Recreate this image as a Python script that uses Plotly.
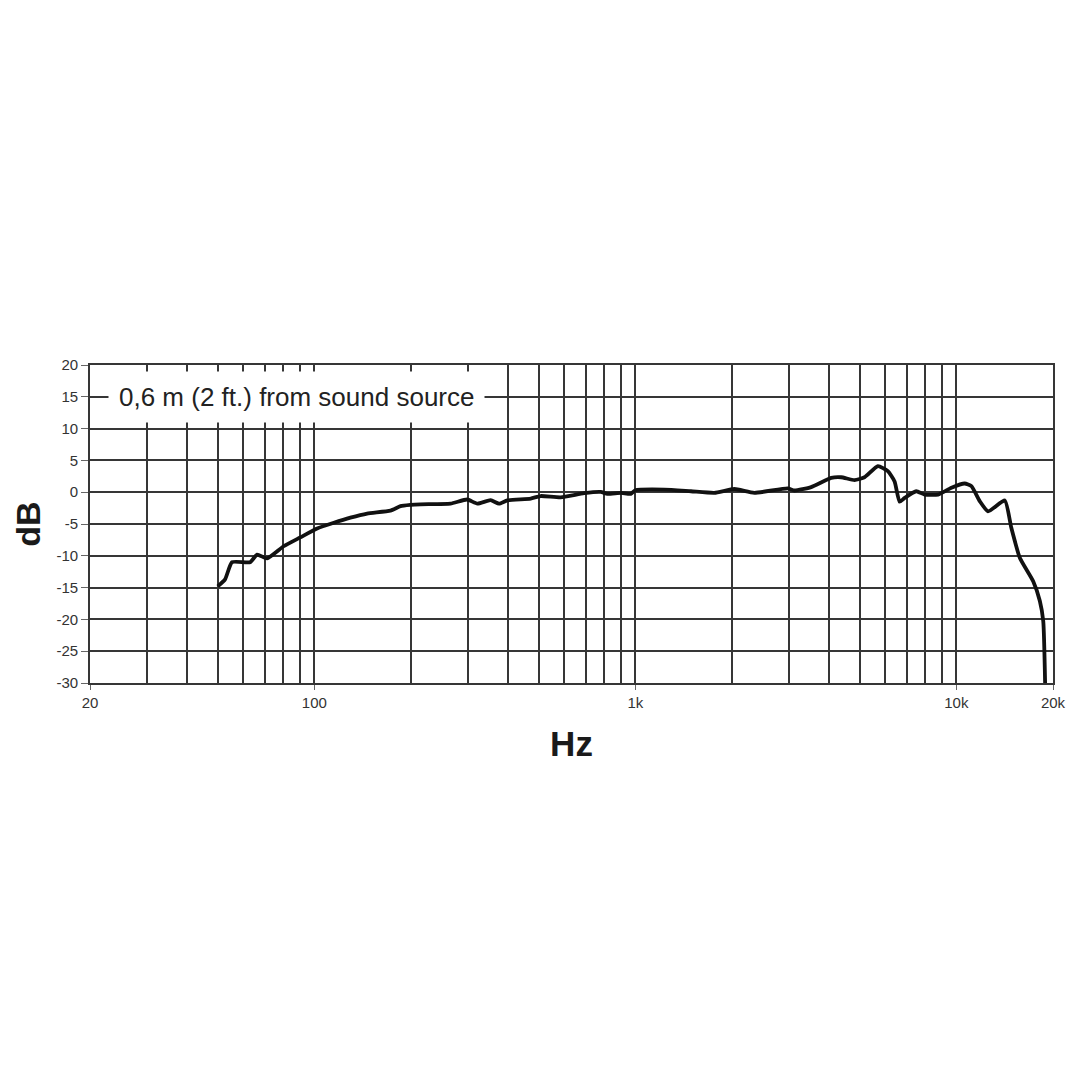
import plotly.graph_objects as go

# Frequency response data (Hz, dB)
freq_hz = [50, 52.7, 55.4, 63.1, 66.3, 71.2, 80.2, 90.4, 102, 115, 129.5, 146, 172.6, 185.5, 199, 214,
           265.6, 299, 322, 354, 376, 399, 472, 507, 585, 692, 780, 818, 902, 968, 1000,
           1230, 1490, 1762, 2033, 2348, 2983, 3130, 3528, 4074, 4375, 4816, 5175,
           5696, 6118, 6420, 6655, 6900, 7500, 7962, 8770, 9653, 10613, 11140, 11823, 12554,
           14150, 14830, 15760, 17350, 18200, 18650, 18900]
level_db = [-14.8, -13.7, -11.0, -11.0, -9.8, -10.4, -8.5, -7.1, -5.7, -4.8, -4.0, -3.35, -2.9, -2.2, -2.0, -1.9,
            -1.8, -1.15, -1.8, -1.26, -1.8, -1.3, -1.0, -0.6, -0.8, -0.15, 0.05, -0.26, -0.1, -0.26, 0.3,
            0.42, 0.15, -0.1, 0.5, -0.1, 0.6, 0.27, 0.8, 2.25, 2.35, 1.9, 2.35,
            4.1, 3.3, 1.7, -1.5, -0.9, 0.15, -0.37, -0.37, 0.7, 1.37, 0.95, -1.4, -3.0,
            -1.3, -5.6, -10.3, -14.0, -17.1, -20.3, -30.0]

x_tick_vals = [20, 100, 1000, 10000, 20000]
x_tick_text = ["20", "100", "1k", "10k", "20k"]
x_minor_grid = [30, 40, 50, 60, 70, 80, 90,
                200, 300, 400, 500, 600, 700, 800, 900,
                2000, 3000, 4000, 5000, 6000, 7000, 8000, 9000]
y_tick_vals = [20, 15, 10, 5, 0, -5, -10, -15, -20, -25, -30]
y_tick_text = ["20", "15", "10", "5", "0", "-5", "-10", "-15", "-20", "-25", "-30"]
note_text = "0,6 m (2 ft.) from sound source"

FONT = "Liberation Sans, Arial, Helvetica, sans-serif"
GRID = "#363636"

fig = go.Figure()
fig.add_trace(go.Scatter(
    x=freq_hz, y=level_db, mode="lines",
    line=dict(color="#111111", width=3.8, shape="spline", smoothing=0.5),
    hoverinfo="skip", showlegend=False,
))

fig.update_layout(
    width=1080, height=1080,
    margin=dict(l=82, r=35, t=357, b=405),
    paper_bgcolor="white", plot_bgcolor="white",
    font=dict(family=FONT, color="#333333"),
    xaxis=dict(
        type="log", range=[1.30103, 4.30103],
        tickmode="array", tickvals=x_tick_vals, ticktext=x_tick_text,
        ticks="outside", ticklen=5, tickwidth=1, tickcolor="#666666",
        tickfont=dict(size=15, color="#333333", family=FONT),
        showgrid=True, gridcolor=GRID, gridwidth=1.8,
        minor=dict(tickmode="array", tickvals=x_minor_grid, showgrid=True,
                   gridcolor=GRID, gridwidth=1.8, ticks=""),
        showline=True, linecolor=GRID, linewidth=1.8, mirror=True,
        zeroline=False,
        title=dict(text="<b>Hz</b>", font=dict(size=35, color="#1a1a1a", family=FONT), standoff=22),
    ),
    yaxis=dict(
        range=[-30, 20],
        tickmode="array", tickvals=y_tick_vals, ticktext=y_tick_text,
        ticks="outside", ticklen=7, tickwidth=1, tickcolor="#666666",
        tickfont=dict(size=15, color="#333333", family=FONT),
        showgrid=True, gridcolor=GRID, gridwidth=1.8,
        showline=True, linecolor=GRID, linewidth=1.8, mirror=True,
        zeroline=False,
        title=dict(text="<b>dB</b>", font=dict(size=34, color="#1a1a1a", family=FONT), standoff=6),
    ),
    annotations=[dict(
        text=note_text, xref="paper", yref="y", x=0.214, y=15,
        xanchor="center", yanchor="middle", showarrow=False,
        font=dict(size=26, color="#222222", family=FONT),
        bgcolor="white", borderpad=10,
    )],
)

fig.write_html("out.html")
